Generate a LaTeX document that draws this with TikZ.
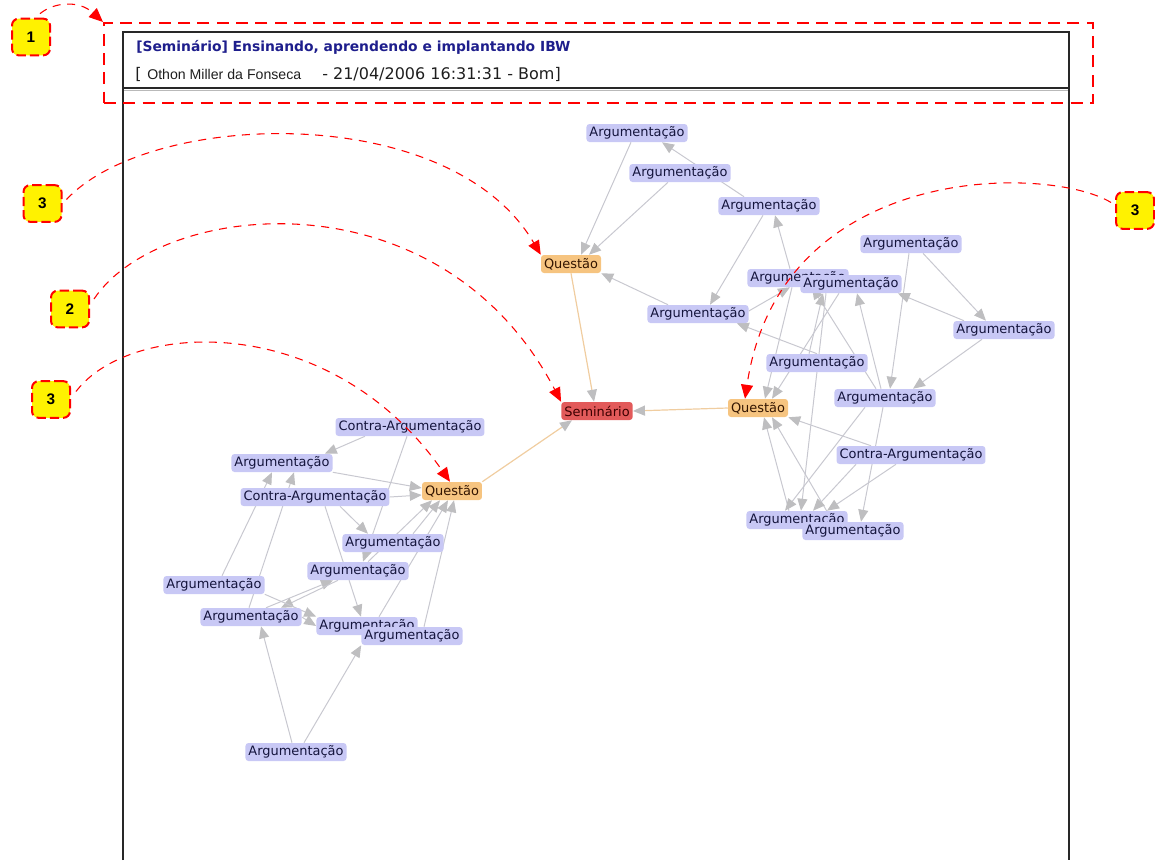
\documentclass[tikz,border=0pt]{standalone}
\usepackage{fontspec}
\setmainfont{DejaVu Sans}
\newfontfamily\namefont{Liberation Sans}
\usetikzlibrary{arrows.meta}
\pgfdeclarelayer{links}
\pgfsetlayers{links,main}

\definecolor{argfill}{RGB}{200,200,245}
\definecolor{argtext}{RGB}{20,20,60}
\definecolor{qfill}{RGB}{246,196,128}
\definecolor{qtext}{RGB}{50,20,0}
\definecolor{sfill}{RGB}{226,90,90}
\definecolor{stext}{RGB}{60,0,0}
\definecolor{linkgray}{RGB}{200,200,208}
\definecolor{tipgray}{RGB}{190,190,192}
\definecolor{qline}{RGB}{240,205,160}
\definecolor{titleblue}{RGB}{30,30,140}
\definecolor{datetext}{RGB}{30,30,30}
\definecolor{framecol}{RGB}{40,40,40}

\begin{document}
\begin{tikzpicture}[x=0.75pt,y=-0.75pt,
  arg/.style={fill=argfill,text=argtext,rounded corners=2.25pt,inner xsep=2.25pt,inner ysep=0pt,minimum height=13.5pt,font=\fontsize{9.7}{11}\selectfont},
  ques/.style={arg,fill=qfill,text=qtext},
  sem/.style={arg,fill=sfill,text=stext},
  link/.style={draw=linkgray,line width=0.75pt,-{Triangle[length=9pt,width=7.5pt,color=tipgray]}},
  qlink/.style={link,draw=qline,line width=0.9pt},
  callout/.style={draw=red,fill=yellow,line width=1.5pt,dash pattern=on 7pt off 3pt,rounded corners=5pt,minimum width=28.5pt,minimum height=27.5pt,inner sep=0pt,font=\namefont\bfseries\fontsize{11.5}{12}\selectfont},
  pointer/.style={draw=red,line width=0.8pt,dash pattern=on 6pt off 5pt,-{Triangle[length=10.5pt,width=9pt,color=red]}},
  frame/.style={draw=framecol,line width=1.2pt},
]
\useasboundingbox (0,0) rectangle (1155,860);

% page frame and header
\draw[frame] (123,860) -- (123,32) -- (1069,32) -- (1069,860);
\draw[frame] (123,88) -- (1069,88);
\draw[draw=gray!55,line width=0.8pt] (124,90.5) -- (1068,90.5);

\node[anchor=base west,inner sep=0pt,text=titleblue,font=\bfseries\fontsize{10.4}{12}\selectfont] (title) at (136,51.5) {[Seminário] Ensinando, aprendendo e implantando IBW};
\node[anchor=base west,inner sep=0pt,text=datetext,font=\fontsize{12}{14}\selectfont] (lbr) at (135,79) {[};
\node[anchor=base west,inner sep=0pt,text=datetext,font=\namefont\fontsize{10.6}{12}\selectfont] (author) at (147,79) {Othon Miller da Fonseca};
\node[anchor=base west,inner sep=0pt,text=datetext,font=\fontsize{12}{14}\selectfont] (stamp) at (322,79) {- 21/04/2006 16:31:31 - Bom]};

% highlighted header area
\node[draw=red,line width=1.5pt,dash pattern=on 9pt off 5.5pt,minimum width=741.75pt,minimum height=60pt,inner sep=0pt,anchor=north west] (hl) at (103,22) {};

% central node and questions
\node[sem]  (S)  at (597,411) {Seminário};
\node[ques] (Qt) at (571,264) {Questão};
\node[ques] (Qr) at (758,408) {Questão};
\node[ques] (Ql) at (452,491) {Questão};

% upper / right cluster
\node[arg] (A1)  at (637,133) {Argumentação};
\node[arg] (A2)  at (680,173) {Argumentação};
\node[arg] (A3)  at (769,206) {Argumentação};
\node[arg] (A4)  at (698,314) {Argumentação};
\node[arg] (A5)  at (911,244) {Argumentação};
\node[arg] (A6)  at (798,278) {Argumentação};
\node[arg] (A7)  at (851,284) {Argumentação};
\node[arg] (A8)  at (1004,330) {Argumentação};
\node[arg] (A9)  at (817,363) {Argumentação};
\node[arg] (A10) at (885,398) {Argumentação};
\node[arg] (CA1) at (911,455) {Contra-Argumentação};
\node[arg] (A11) at (797,520) {Argumentação};
\node[arg] (A12) at (853,531) {Argumentação};

% left cluster
\node[arg] (CA2) at (410,427) {Contra-Argumentação};
\node[arg] (A13) at (282,463) {Argumentação};
\node[arg] (CA3) at (315,497) {Contra-Argumentação};
\node[arg] (A14) at (393,543) {Argumentação};
\node[arg] (A15) at (358,571) {Argumentação};
\node[arg] (A16) at (214,585) {Argumentação};
\node[arg] (A17) at (251,617) {Argumentação};
\node[arg] (A18) at (367,626) {Argumentação};
\node[arg] (A19) at (412,636) {Argumentação};
\node[arg] (A20) at (296,752) {Argumentação};

\begin{pgfonlayer}{links}
% questions to the seminar
\draw[qlink] (Qt.south) -- ([shift={(-3,0)}]S.north);
\draw[qlink] (Qr.west) -- (S.east);
\draw[qlink] (Ql.north east) -- ([shift={(-25,0)}]S.south);

% upper cluster
\draw[link] ([shift={(-6,0)}]A1.south) -- ([shift={(10,0)}]Qt.north);
\draw[link] ([shift={(-12,0)}]A2.south) -- ([shift={(18,0)}]Qt.north);
\draw[link] ([shift={(-25,0)}]A3.north) -- ([shift={(25,0)}]A1.south);
\draw[link] ([shift={(-6,0)}]A3.south) -- ([shift={(12,0)}]A4.north);
\draw[link] ([shift={(-8,0)}]A6.north) -- ([shift={(6,0)}]A3.south);
\draw[link] ([shift={(-30,0)}]A4.north) -- (Qt.south east);
\draw[link] ([shift={(0,-3)}]A4.east) -- ([shift={(-8,0)}]A6.south);
\draw[link] (A9.north) -- ([shift={(-12,0)}]A4.south east);

% right cluster
\draw[link] ([shift={(-6,0)}]A6.south) -- ([shift={(7,0)}]Qr.north);
\draw[link] ([shift={(-12,0)}]A7.south) -- ([shift={(14,0)}]Qr.north);
\draw[link] ([shift={(-8,0)}]A11.north) -- ([shift={(6,0)}]Qr.south);
\draw[link] ([shift={(-20,0)}]A12.north) -- ([shift={(14,0)}]Qr.south);
\draw[link] ([shift={(-40,0)}]CA1.north) -- (Qr.south east);
\draw[link] ([shift={(12,0)}]A5.south) -- ([shift={(-18,0)}]A8.north);
\draw[link] ([shift={(-2,0)}]A5.south) -- ([shift={(5,0)}]A10.north);
\draw[link] ([shift={(-22,0)}]A8.south) -- ([shift={(28,0)}]A10.north);
\draw[link] ([shift={(-40,0)}]A8.north) -- ([shift={(-4,0)}]A7.south east);
\draw[link] ([shift={(-4,0)}]A10.north) -- ([shift={(6,0)}]A7.south);
\draw[link] ([shift={(-9,0)}]A10.north) -- ([shift={(14,0)}]A6.south);
\draw[link] ([shift={(-8,0)}]A9.north) -- ([shift={(-28,0)}]A7.south);
\draw[link] ([shift={(-25,0)}]A7.south) -- ([shift={(4,0)}]A11.north);
\draw[link] ([shift={(-55,0)}]CA1.south) -- ([shift={(16,0)}]A11.north);
\draw[link] ([shift={(-15,0)}]CA1.south) -- ([shift={(30,0)}]A11.north);
\draw[link] ([shift={(-2,0)}]A10.south) -- ([shift={(8,0)}]A12.north);
\draw[link] ([shift={(-20,0)}]A10.south) -- ([shift={(-12,0)}]A11.north);

% left cluster
\draw[link] ([shift={(-45,0)}]CA2.south) -- ([shift={(-8,0)}]A13.north east);
\draw[link] ([shift={(-3,0)}]CA2.south) -- ([shift={(5,0)}]A15.north);
\draw[link] (A13.south east) -- ([shift={(0,-3)}]Ql.west);
\draw[link] (CA3.east) -- ([shift={(0,4)}]Ql.west);
\draw[link] ([shift={(20,0)}]A14.north) -- ([shift={(-12,0)}]Ql.south);
\draw[link] ([shift={(10,0)}]A15.north) -- ([shift={(-20,0)}]Ql.south);
\draw[link] ([shift={(12,0)}]A18.north) -- ([shift={(-4,0)}]Ql.south);
\draw[link] ([shift={(12,0)}]A19.north) -- ([shift={(2,0)}]Ql.south);
\draw[link] ([shift={(8,0)}]A16.north) -- ([shift={(-10,0)}]A13.south);
\draw[link] ([shift={(-2,0)}]A17.north) -- ([shift={(12,0)}]A13.south);
\draw[link] ([shift={(15,0)}]A17.north) -- ([shift={(-25,0)}]A15.south);
\draw[link] ([shift={(-20,0)}]A15.south) -- ([shift={(30,0)}]A17.north);
\draw[link] (A16.south east) -- (A18.north west);
\draw[link] (A17.east) -- (A18.west);
\draw[link] ([shift={(-4,0)}]A20.north) -- ([shift={(10,0)}]A17.south);
\draw[link] ([shift={(8,0)}]A20.north) -- (A19.south west);
\draw[link] ([shift={(10,0)}]CA3.south) -- ([shift={(-6,0)}]A18.north);
\draw[link] ([shift={(25,0)}]CA3.south) -- ([shift={(-25,0)}]A14.north);
\end{pgfonlayer}

% numbered callouts
\node[callout] (c1)  at (31,37)     {1};
\node[callout] (c3a) at (42.5,203.5) {3};
\node[callout] (c2)  at (70,309)    {2};
\node[callout] (c3b) at (51,399.5)  {3};
\node[callout] (c3c) at (1135,210.5) {3};

% callout pointers
\draw[pointer] ([shift={(9,-4)}]c1.north) .. controls (54,2) and (79,0) .. (hl.north west);
\draw[pointer] ([shift={(4,-4)}]c3a.east) .. controls (150,110) and (450,100) .. (Qt.north west);
\draw[pointer] ([shift={(4,-10)}]c2.east) .. controls (160,200) and (440,170) .. (S.north west);
\draw[pointer] ([shift={(5,-8)}]c3b.east) .. controls (130,320) and (330,310) .. ([shift={(-2,0)}]Ql.north);
\draw[pointer] ([shift={(-4,-8)}]c3c.west) .. controls (1050,165) and (780,160) .. ([shift={(-13,0)}]Qr.north);
\end{tikzpicture}
\end{document}
